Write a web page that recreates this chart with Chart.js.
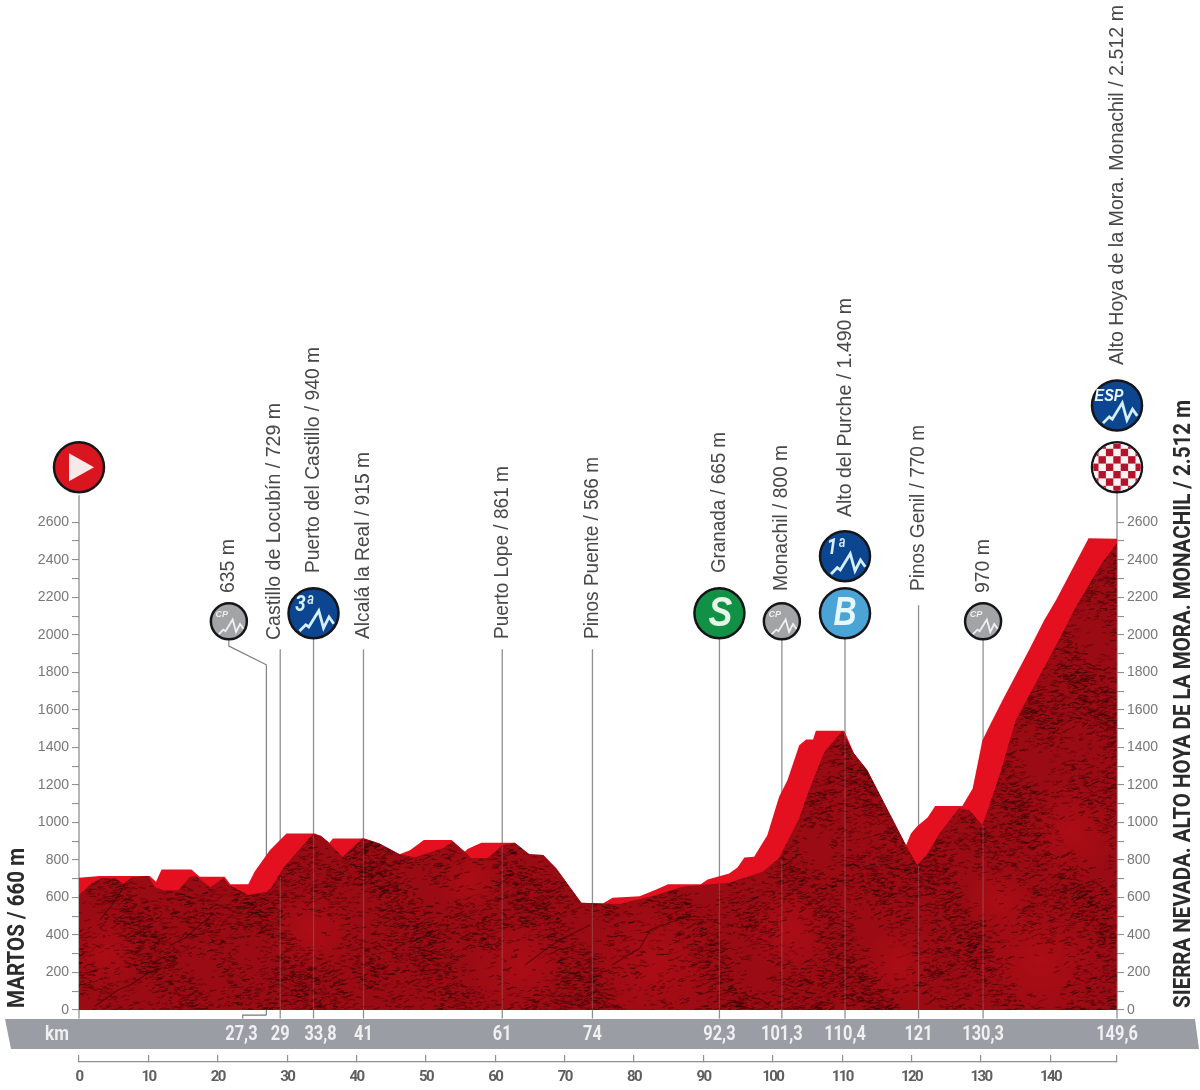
<!DOCTYPE html>
<html>
<head>
<meta charset="utf-8">
<title>Perfil de etapa</title>
<style>html,body{margin:0;padding:0;background:#fff}canvas{display:block}</style>
<script src="https://cdn.jsdelivr.net/npm/chart.js@4"></script>
</head>
<body>
<canvas id="perfil" width="1200" height="1090"></canvas>
<script>
// Upper outline of the road profile (km, metres)
const roadKm = [0,3,10.2,11.1,11.9,16.2,17.4,21,21.8,24.4,25.3,27.5,29.9,34,34.9,36.1,36.6,41.2,43.3,46.2,47.7,49.7,53.7,55.6,56,58,62.8,64.9,66.9,68.8,72.4,75.5,76.9,80.8,83.2,84.9,89.6,90.6,93.7,94.9,95.9,97.3,99.2,100.9,102.1,103.8,104.8,105.8,106.2,110.3,111.7,113.6,119.2,119.9,120.8,122.3,123.4,127.3,128.8,130.2,131.4,133.1,136.9,139.1,140.8,145.5,149.6];
const roadElev = [705,714,714,684,749,749,710,710,671,671,737,852,941,941,927,891,914,914,888,831,852,906,906,844,858,891,891,831,826,755,572,568,598,607,643,670,671,696,728,760,813,817,932,1137,1225,1412,1442,1442,1488,1488,1368,1279,879,941,980,1026,1087,1087,1181,1438,1527,1651,1918,2078,2184,2515,2512];
// Outline of the shaded massif in front of the road band
const massifKm = [0,1.8,3.2,5.2,6.4,7.6,10,10.9,12.2,14.3,16,16.9,18.9,20.8,21.7,24.4,27,27.7,29.4,33.7,34.9,36.1,38,40.9,43.3,46.2,48.4,52.4,53.9,55.6,56.5,58.9,61,62.8,64.9,66.9,68.8,72.4,75.5,77.9,83.2,87,89.6,93.7,98.5,100.9,103.8,105.2,107.4,110,111.7,113.6,119.2,120.8,122.3,124,126.8,128.3,130.2,132.6,133.6,135,140.8,143.8,147.4,149.6];
const massifElev = [613,675,703,703,675,708,714,657,639,639,710,714,654,703,666,613,630,650,756,938,927,888,817,916,888,831,815,863,897,844,810,810,879,891,831,826,755,572,568,565,613,657,666,678,737,810,1022,1172,1376,1488,1368,1279,879,772,834,941,1075,1066,985,1243,1369,1545,1945,2158,2382,2490];

// Passing points: kilometre of each leader line and its label
const pointKm = [29,33.8,41,61,74,92.3,101.3,110.4,121,130.3,149.6];
const pointLabels = ['Castillo de Locubín / 729 m','Puerto del Castillo / 940 m','Alcalá la Real / 915 m','Puerto Lope / 861 m','Pinos Puente / 566 m','Granada / 665 m','Monachil / 800 m','Alto del Purche / 1.490 m','Pinos Genil / 770 m','970 m','Alto Hoya de la Mora. Monachil / 2.512 m'];
const leaderTop = [1923,2115,1923,1923,1923,2115,2072,2115,2158,2072,2893];
const leaderInRock = [710,930,916,879,568,675,805,1470,772,985,2478];
const bandKm = [27.3,29,33.8,41,61,74,92.3,101.3,110.4,121,130.3,149.6];
const bandLabels = ['27,3','29','33,8','41','61','74','92,3','101,3','110,4','121','130,3','149,6'];
const startTitle = 'MARTOS / 660 m';
const finishTitle = 'SIERRA NEVADA. ALTO HOYA DE LA MORA. MONACHIL / 2.512 m';
// Climb point reached through a bent leader
const bentKm = [27,27,21.6,21.6];
const bentElev = [-27,1840,1940,1985];
const footKm = [27,23.6,23.6];
const footElev = [-27,-27,-45];
const bentLabel = '635 m';

// Badges along the stage
const badgeKinds = ['start','cp','3','s','cp','1','b','cp','esp','finish'];
const badgeKm = [0,21.6,33.8,92.3,101.3,110.4,110.4,130.3,149.6,149.6];
const badgeLevel = [2893,2072,2115,2115,2072,2419,2115,2072,3223,2893];

const elevTicks = [0,100,200,300,400,500,600,700,800,900,1000,1100,1200,1300,1400,1500,1600,1700,1800,1900,2000,2100,2200,2300,2400,2500,2600];
const kmTicks = [0,10,20,30,40,50,60,70,80,90,100,110,120,130,140,149.6];

const zip = (xs, ys) => xs.map((x, i) => ({x, y: ys[i]}));
const NARROW = '"Liberation Sans Narrow","Roboto","Liberation Sans",sans-serif';
const SANS = '"Liberation Sans",Arial,sans-serif';
const GREY = '#8e9094';

// Bright road band with its faint contour lines
let roadFill = null;
function roadPattern(chart) {
  if (roadFill) return roadFill;
  const c = document.createElement('canvas');
  c.width = chart.width; c.height = chart.height;
  const g = c.getContext('2d');
  g.fillStyle = '#e4101f';
  g.fillRect(0, 0, c.width, c.height);
  g.fillStyle = 'rgba(255,120,120,.55)';
  elevTicks.filter(v => v % 200 === 0).forEach(v => {
    g.fillRect(0, chart.scales.y.getPixelForValue(v) - .5, c.width, 1);
  });
  roadFill = chart.ctx.createPattern(c, 'no-repeat');
  return roadFill;
}

// Hatched rock texture of the massif
let rockFill = null;
function rockPattern(chart) {
  if (rockFill) return rockFill;
  const c = document.createElement('canvas');
  c.width = chart.width; c.height = chart.height;
  const g = c.getContext('2d');
  g.fillStyle = '#9a0b13';
  g.fillRect(0, 0, c.width, c.height);
  let s = 12345;
  const next = () => (s = (s * 1664525 + 1013904223) >>> 0) / 4294967296;
  const calm = [[520,965,45],[470,880,30],[655,965,60],[1040,960,60],[1070,830,45],[1000,900,30],[310,930,40],[105,955,35],[790,930,40],[900,965,35]];
  calm.forEach(([cx, cy, r]) => {
    const grad = g.createRadialGradient(cx, cy, 0, cx, cy, r * 1.2);
    grad.addColorStop(0, 'rgba(190,14,24,.5)');
    grad.addColorStop(1, 'rgba(190,14,24,0)');
    g.fillStyle = grad;
    g.fillRect(cx - r * 1.2, cy - r * 1.2, r * 2.4, r * 2.4);
  });
  for (let i = 0; i < 85000; i++) {
    const x = 70 + next() * 1060, y = 530 + next() * 490;
    // Strokes gather in drifting clusters
    let keep = .5 + .4 * Math.sin(x / 29 + y / 61) * Math.sin(y / 23 - x / 83) + .22 * Math.sin(x / 11 - y / 17);
    calm.forEach(([cx, cy, r]) => {
      const d = Math.hypot(x - cx, y - cy) / r;
      if (d < 1) keep *= d;
    });
    if (next() > keep) continue;
    const a = -.1 + (next() - .5) * .8, l = 1.5 + next() * 5.5;
    g.strokeStyle = 'rgba(30,0,2,' + (.25 + next() * .45) + ')';
    g.lineWidth = .5 + next() * .6;
    g.beginPath();
    g.moveTo(x, y);
    g.lineTo(x + Math.cos(a) * l, y + Math.sin(a) * l);
    g.stroke();
  }
  // Long ravines
  g.strokeStyle = 'rgba(25,0,2,.45)';
  g.lineWidth = 1.2;
  [[[95,1006],[118,990],[130,985],[150,972],[162,968]],[[170,945],[185,938],[200,925],[212,915]],[[612,965],[640,948],[650,930],[690,915]],[[525,965],[545,950],[560,940],[590,925]],[[100,920],[112,905],[125,885]],[[745,995],[762,1000],[770,1006]]].forEach(p => {
    g.beginPath();
    p.forEach(([x, y], i) => i ? g.lineTo(x, y) : g.moveTo(x, y));
    g.stroke();
  });
  rockFill = chart.ctx.createPattern(c, 'no-repeat');
  return rockFill;
}

// Rotated text, reading upwards from a bottom anchor
function upText(ctx, text, x, bottom, length, font, color) {
  ctx.save();
  ctx.translate(x, bottom);
  ctx.rotate(-Math.PI / 2);
  ctx.font = font;
  ctx.fillStyle = color;
  ctx.textAlign = 'left';
  ctx.textBaseline = 'middle';
  ctx.fillText(text, 0, 0, length);
  ctx.restore();
}

function ridge(ctx, x, y, r, color, w) {
  const p = [[-.56,.71],[-.31,.46],[-.19,.55],[.21,-.1],[.4,.59],[.62,.15],[.81,.42]];
  ctx.save();
  ctx.strokeStyle = color;
  ctx.lineWidth = w;
  ctx.lineJoin = 'miter';
  ctx.beginPath();
  p.forEach(([a, b], i) => {
    const px = x + a * r, py = y + b * r;
    i ? ctx.lineTo(px, py) : ctx.moveTo(px, py);
  });
  ctx.stroke();
  ctx.restore();
}

function centred(ctx, text, x, y, font, color, squeeze) {
  ctx.font = font;
  ctx.fillStyle = color;
  ctx.textAlign = 'center';
  ctx.textBaseline = 'middle';
  if (squeeze) ctx.fillText(text, x, y, ctx.measureText(text).width * squeeze);
  else ctx.fillText(text, x, y);
}

function badgeGlyph(ctx, kind, x, y, r) {
  const ice = '#d5f0fa';
  if (kind === 'start') {
    ctx.fillStyle = '#f6e9e9';
    ctx.beginPath();
    ctx.moveTo(x - 10, y - 14);
    ctx.lineTo(x + 15, y);
    ctx.lineTo(x - 10, y + 14);
    ctx.closePath();
    ctx.fill();
  } else if (kind === 'finish') {
    ctx.save();
    ctx.beginPath();
    ctx.arc(x, y, r - 1.2, 0, Math.PI * 2);
    ctx.clip();
    ctx.fillStyle = '#fbf3f3';
    ctx.fillRect(x - r, y - r, r * 2, r * 2);
    ctx.fillStyle = '#b5132b';
    const u = 7.4;
    for (let i = -4; i <= 4; i++) for (let j = -4; j <= 4; j++) {
      if ((i + j) & 1) ctx.fillRect(x + i * u - u / 2, y + j * u - u / 2, u, u);
    }
    ctx.restore();
  } else if (kind === 'cp') {
    ridge(ctx, x, y, r, '#f0f0f0', 1.8);
    centred(ctx, 'CP', x - 7, y - 7, 'italic bold 9px ' + SANS, '#ececec');
  } else if (kind === '3' || kind === '1') {
    ridge(ctx, x, y, r, ice, 2.8);
    centred(ctx, kind + 'ª', x - 9, y - 8, 'italic bold 22px ' + NARROW, ice, .85);
  } else if (kind === 'esp') {
    ridge(ctx, x, y, r, ice, 2.8);
    centred(ctx, 'ESP', x - 8, y - 9, 'italic bold 16px ' + SANS, '#eef8fc', .9);
  } else if (kind === 's') {
    centred(ctx, 'S', x + 1, y + 1, 'italic bold 42px ' + SANS, '#e6f6e6', .85);
  } else if (kind === 'b') {
    centred(ctx, 'B', x, y + 1, 'italic bold 40px ' + SANS, '#e6f7fb', .8);
  }
}

const stageArt = {
  id: 'stageArt',
  beforeDraw(chart) {
    // The distance scale uses tightly set figures
    const sx = chart.scales.x;
    if (!sx.tightLabels) {
      const plain = sx.drawLabels;
      sx.tightLabels = true;
      sx.drawLabels = function (area) {
        const c = this.ctx;
        c.save();
        c.letterSpacing = '-1.6px';
        plain.call(this, area);
        c.restore();
      };
    }
  },
  beforeDatasetsDraw(chart) {
    // Grey kilometre band
    const c = chart.ctx;
    c.save();
    c.fillStyle = '#9a9da3';
    c.beginPath();
    c.moveTo(5, 1019); c.lineTo(1195, 1019); c.lineTo(1199, 1049); c.lineTo(11, 1049);
    c.closePath();
    c.fill();
    c.restore();
  },
  afterDatasetsDraw(chart) {
    const c = chart.ctx, X = chart.scales.x;
    c.save();
    // Badge contents
    const meta = chart.getDatasetMeta(chart.data.datasets.findIndex(d => d.badges));
    meta.data.forEach((pt, i) => {
      badgeGlyph(c, badgeKinds[i], pt.x, pt.y, pt.options.radius);
    });
    // Band figures
    centred(c, 'km', 57, 1035, 'bold 20px ' + NARROW, '#eef0f2', .85);
    bandLabels.forEach((t, i) => {
      centred(c, t, X.getPixelForValue(bandKm[i]) + (i === 0 ? -27 : 0) + (i === 2 ? 7 : 0), 1035, 'bold 21px ' + NARROW, '#eef0f2', .78);
    });
    // Stage end titles
    upText(c, startTitle, 18, 1008, 160, 'bold 24px ' + NARROW, '#2b2b2b');
    upText(c, finishTitle, 1184, 1008, 608, 'bold 24px ' + NARROW, '#2b2b2b');
    // Leader labels
    const bottoms = [640,573,639,639,639,573,591,517,591,593,365];
    const lengths = [237,226,187,173,182,141,146,219,166,54,360];
    const shift = [-6,0,0,0,0,0,0,0,0,0,0];
    pointLabels.forEach((t, i) => {
      upText(c, t, X.getPixelForValue(pointKm[i]) + shift[i], bottoms[i], lengths[i], '20px ' + SANS, '#484848');
    });
    upText(c, bentLabel, X.getPixelForValue(bentKm[2]), 593, 54, '20px ' + SANS, '#484848');
    c.restore();
  }
};

const leaderStyle = {showLine: true, pointRadius: 0, borderColor: GREY, borderWidth: 1.3, fill: false, clip: false};
const leaders = pointKm.map((km, i) => ({
  ...leaderStyle,
  order: 5,
  data: zip([km, km], [leaderTop[i], -45])
}));
const leaderGhosts = pointKm.map((km, i) => ({
  ...leaderStyle,
  order: 1,
  borderColor: 'rgba(150,120,120,.4)',
  data: zip([km, km], [leaderInRock[i], 0])
}));

new Chart(document.getElementById('perfil'), {
  type: 'scatter',
  plugins: [stageArt],
  data: {
    datasets: [
      {badges: true, order: 0, clip: false, data: zip(badgeKm, badgeLevel),
        pointRadius: badgeKinds.map(k => k === 'cp' ? 18 : 25),
        pointHoverRadius: badgeKinds.map(k => k === 'cp' ? 18 : 25),
        pointBackgroundColor: badgeKinds.map(k => ({start:'#d9161f',cp:'#a3a4a6','3':'#0d4690','1':'#0d4690',esp:'#0d4690',s:'#109146',b:'#4aa5d6',finish:'#fbf3f3'}[k])),
        pointBorderColor: '#15151a',
        pointBorderWidth: 2.5},
      ...leaderGhosts,
      {order: 2, showLine: true, pointRadius: 0, borderWidth: 0, clip: false,
        data: zip(massifKm, massifElev), fill: {value: 0},
        backgroundColor: ctx => rockPattern(ctx.chart)},
      {order: 3, showLine: true, pointRadius: 0, borderWidth: 0, clip: false,
        data: zip(roadKm, roadElev), fill: {value: 0},
        backgroundColor: ctx => roadPattern(ctx.chart)},
      ...leaders,
      // Start line and the bent leader with its foot
      {...leaderStyle, order: 5, data: zip([0, 0], [2744, -45])},
      {...leaderStyle, order: 5, borderColor: '#777', borderWidth: 1.1, data: zip(bentKm, bentElev)},
      {...leaderStyle, order: 5, borderColor: '#777', borderWidth: 1.1, data: zip(footKm, footElev)}
    ]
  },
  options: {
    responsive: false,
    animation: false,
    events: [],
    layout: {padding: 0, autoPadding: false},
    plugins: {legend: {display: false}, tooltip: {enabled: false}},
    scales: {
      x: {
        type: 'linear', min: 0, max: 149.6,
        afterFit: s => { s.height = 28; },
        afterBuildTicks: s => { s.ticks = kmTicks.map(value => ({value})); },
        border: {display: true, color: GREY, width: 1.3},
        grid: {drawOnChartArea: false, drawTicks: true, tickLength: -7, color: GREY, lineWidth: 1.2},
        ticks: {autoSkip: false, maxRotation: 0, padding: 13, color: '#5f5f5f',
          font: {family: NARROW, size: 15, weight: 'bold'},
          callback: v => (v % 10 === 0 ? String(v) : '')}
      },
      y: {
        type: 'linear', position: 'left', min: -277, max: 5323,
        afterFit: s => { s.width = 79; },
        afterBuildTicks: s => { s.ticks = elevTicks.map(value => ({value})); },
        border: {display: false},
        grid: {drawOnChartArea: false, tickLength: 7, color: GREY, lineWidth: 1.1},
        ticks: {autoSkip: false, padding: 3, color: '#777',
          font: {family: SANS, size: 14},
          callback: v => (v % 200 === 0 ? String(v) : '')}
      },
      yr: {
        type: 'linear', position: 'right', min: -277, max: 5323,
        afterFit: s => { s.width = 83; },
        afterBuildTicks: s => { s.ticks = elevTicks.map(value => ({value})); },
        border: {display: false},
        grid: {drawOnChartArea: false, tickLength: 7, color: GREY, lineWidth: 1.1},
        ticks: {autoSkip: false, padding: 3, color: '#777',
          font: {family: SANS, size: 14},
          callback: v => (v % 200 === 0 ? String(v) : '')}
      }
    }
  }
});
</script>
</body>
</html>
